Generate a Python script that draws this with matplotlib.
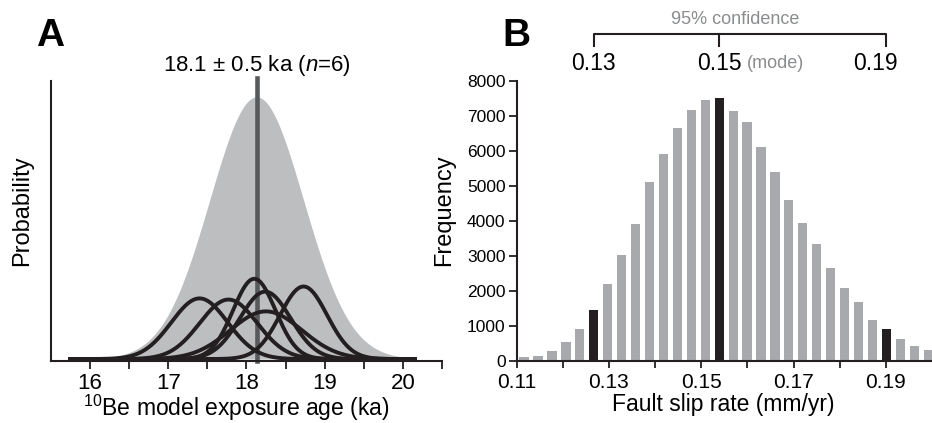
import numpy as np
import matplotlib
matplotlib.use("Agg")
import matplotlib.pyplot as plt
from matplotlib.ticker import FixedLocator

plt.rcParams["font.family"] = ["Liberation Sans", "DejaVu Sans"]
plt.rcParams["mathtext.fontset"] = "custom"
plt.rcParams["mathtext.rm"] = "Liberation Sans"
plt.rcParams["mathtext.it"] = "Liberation Sans:italic"

# Panel A: individual 10Be model ages (ka) and 1-sigma errors
ages = [17.40, 17.77, 18.10, 18.24, 18.73, 18.25]
age_errs = [0.36, 0.367, 0.272, 0.324, 0.301, 0.458]
mean_age = 18.13
summed_sigma = 0.6      # spread of the grey summed curve
summed_peak = 4.79      # its height, in the same probability units
n_samples = 6

# Panel B: Monte Carlo slip-rate histogram
slip_counts = [100, 130, 280, 530, 900, 1450, 2190, 3020, 3910, 5110,
               5910, 6660, 7170, 7460, 7510, 7140, 6830, 6110, 5400, 4600,
               3940, 3340, 2650, 2080, 1680, 1160, 905, 620, 420, 305]
slip_centers = 0.1116 + 0.00302 * np.arange(len(slip_counts))
highlight = [5, 14, 26]          # lower 95%, mode, upper 95%
ci_labels = ["0.13", "0.15", "0.19"]

DARK = "#231f20"


def gauss(x, mu, s):
    return np.exp(-0.5 * ((x - mu) / s) ** 2) / (s * np.sqrt(2 * np.pi))


fig = plt.figure(figsize=(9.32, 4.23), dpi=100)

# ---- panel A ----
axA = fig.add_axes([0.0547, 0.1466, 0.4195, 0.6619])
x = np.linspace(15.75, 20.15, 800)
summed = summed_peak * np.exp(-0.5 * ((x - mean_age) / summed_sigma) ** 2)
axA.fill_between(x, 0, summed, color="#bcbec0", lw=0, zorder=1)
axA.plot([mean_age, mean_age], [0, 1.012], transform=axA.get_xaxis_transform(),
         color="#58595b", lw=3.3, clip_on=False, zorder=2)
for a, e in zip(ages, age_errs):
    axA.plot(x, gauss(x, a, e), color=DARK, lw=2.8, zorder=3)

top = summed_peak * 280 / 264
axA.set_ylim(-0.007 * top, top)
axA.set_xlim(15.5, 20.5)
axA.set_yticks([])
for s in ["top", "right"]:
    axA.spines[s].set_visible(False)
for s in ["left", "bottom"]:
    axA.spines[s].set_linewidth(1.5)
    axA.spines[s].set_color(DARK)
axA.xaxis.set_major_locator(FixedLocator([16, 17, 18, 19, 20]))
axA.xaxis.set_minor_locator(FixedLocator([16.5, 17.5, 18.5, 19.5, 20.5]))
axA.tick_params(axis="x", which="both", direction="out", length=6, width=1.3,
                color=DARK, labelsize=16, pad=3)
axA.set_ylabel("Probability", fontsize=17)
axA.yaxis.set_label_coords(-0.046, 0.536)
axA.set_xlabel(r"$^{10}$Be model exposure age (ka)", fontsize=16.5)
axA.xaxis.label.set_va("baseline")
axA.xaxis.set_label_coords(0.474, -0.196)
axA.text(mean_age, 1.057, r"18.1 ± 0.5 ka ($\mathit{n}$=%d)" % n_samples,
         transform=axA.get_xaxis_transform(), ha="center", va="center", fontsize=16)

# ---- panel B ----
axB = fig.add_axes([0.5544, 0.1466, 0.4456, 0.6619])
colors = [DARK if i in highlight else "#a7a9ac" for i in range(len(slip_counts))]
axB.bar(slip_centers, slip_counts, width=0.002, color=colors, lw=0)
axB.set_xlim(0.11, 0.2)
axB.set_ylim(0, 8000)
for s in ["top", "right"]:
    axB.spines[s].set_visible(False)
for s in ["left", "bottom"]:
    axB.spines[s].set_linewidth(1.5)
    axB.spines[s].set_color(DARK)
axB.xaxis.set_major_locator(FixedLocator([0.11, 0.13, 0.15, 0.17, 0.19]))
axB.xaxis.set_minor_locator(FixedLocator([0.12, 0.14, 0.16, 0.18]))
axB.set_xticklabels(["0.11", "0.13", "0.15", "0.17", "0.19"])
axB.set_yticks(range(0, 8001, 1000))
axB.tick_params(axis="x", which="both", direction="out", length=5, width=1.3,
                color=DARK, labelsize=15, pad=4)
axB.tick_params(axis="y", direction="out", length=6, width=1.3, color=DARK,
                labelsize=12.5, pad=2)
axB.set_ylabel("Frequency", fontsize=17)
axB.yaxis.set_label_coords(-0.149, 0.539)
axB.set_xlabel("Fault slip rate (mm/yr)", fontsize=16.5)
axB.xaxis.label.set_va("baseline")
axB.xaxis.set_label_coords(0.497, -0.18)

# 95% confidence bracket
tr = axB.get_xaxis_transform()
xs = [slip_centers[i] for i in highlight]
axB.plot([xs[0], xs[0], xs[2], xs[2]], [1.125, 1.168, 1.168, 1.125],
         transform=tr, color=DARK, lw=1.5, clip_on=False)
axB.plot([xs[1], xs[1]], [1.168, 1.125], transform=tr, color=DARK, lw=1.5,
         clip_on=False)
axB.text((xs[0] + xs[2]) / 2 - 0.001, 1.221, "95% confidence", transform=tr,
         ha="center", va="center", fontsize=13, color="#8a8c8e")
axB.text(xs[0], 1.064, ci_labels[0], transform=tr, ha="center", va="center",
         fontsize=16.5)
axB.text(xs[1], 1.064, ci_labels[1], transform=tr, ha="center", va="center",
         fontsize=16.5)
axB.annotate("(mode)", xy=(xs[1], 1.064), xycoords=tr, xytext=(20, 0),
             textcoords="offset points", ha="left", va="center", fontsize=13,
             color="#8a8c8e")
axB.annotate(ci_labels[2], xy=(xs[2], 1.064), xycoords=tr, xytext=(-8, 0),
             textcoords="offset points", ha="center", va="center", fontsize=16.5)

fig.text(0.0536, 0.916, "A", fontsize=28, fontweight="bold", ha="center", va="center")
fig.text(0.5536, 0.914, "B", fontsize=28, fontweight="bold", ha="center", va="center")

fig.savefig("out.png", dpi=100)
